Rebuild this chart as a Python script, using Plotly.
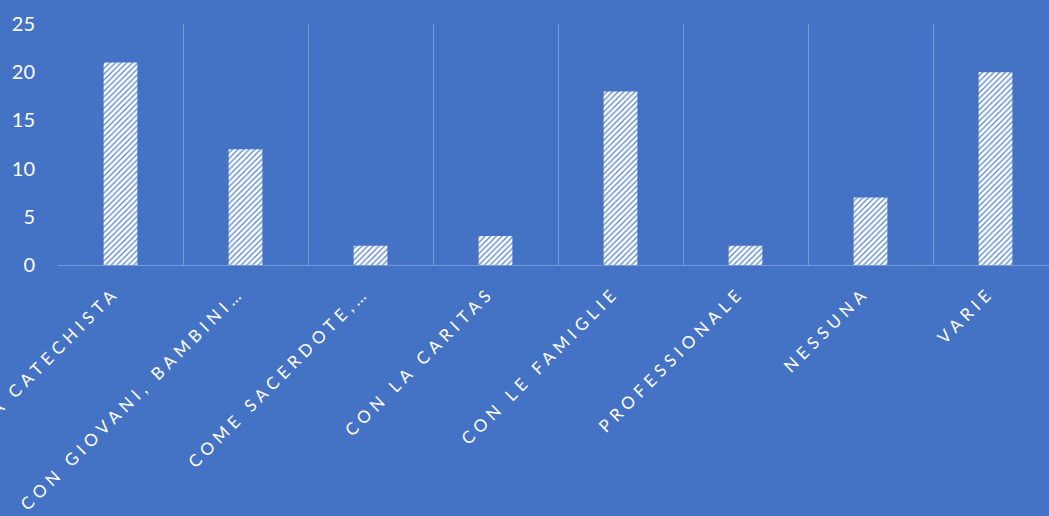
import plotly.graph_objects as go

categories = ["DA CATECHISTA", "CON GIOVANI, BAMBINI…", "COME SACERDOTE,…", "CON LA CARITAS",
              "CON LE FAMIGLIE", "PROFESSIONALE", "NESSUNA", "VARIE"]
values = [21, 12, 2, 3, 18, 2, 7, 20]
y_ticks = [0, 5, 10, 15, 20, 25]

BG = "#4472C4"
GRID = "rgba(255,255,255,0.28)"

fig = go.Figure(go.Bar(
    x=categories, y=values, width=0.27,
    marker=dict(color="white", line=dict(width=0),
                pattern=dict(shape="/", fgcolor="#5482cc", bgcolor="white", size=4,
                             solidity=0.3, fillmode="replace")),
))

fig.update_layout(
    width=1049, height=516,
    paper_bgcolor=BG, plot_bgcolor=BG,
    margin=dict(l=58, r=0, t=24, b=251, autoexpand=False),
    showlegend=False,
    font=dict(family="Lato, 'Open Sans', sans-serif", color="white"),
    bargap=0.73,
)
fig.update_xaxes(
    type="category", range=[-0.5, 7.428], tickson="boundaries",
    showgrid=True, gridcolor=GRID, gridwidth=1,
    showline=True, linecolor=GRID, linewidth=1,
    ticks="", tickangle=-45, automargin=False,
    tickfont=dict(size=17, color="white"), ticklabelstandoff=14,
)
fig.update_yaxes(
    range=[0, 25], tickvals=y_ticks, showgrid=False, zeroline=False, showline=False,
    ticks="", automargin=False,
    tickfont=dict(size=20, color="white"), ticklabelstandoff=22,
)

post = """
document.body.style.margin='0';
document.body.style.background='#4472C4';
document.querySelectorAll('.xtick text').forEach(function(t){
  t.setAttribute('letter-spacing','4.9px');
  t.setAttribute('transform','translate(-6,-4) ' + (t.getAttribute('transform')||''));
});
"""
fig.write_html("out.html", post_script=post, config={"displayModeBar": False})
